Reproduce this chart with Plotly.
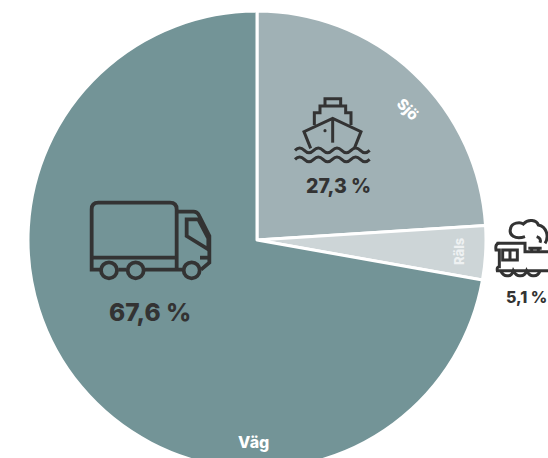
import plotly.graph_objects as go

# Data (slice sizes as drawn; printed shares as labelled)
categories = ["Sjö", "Räls", "Väg"]
slice_sizes = [24.0, 3.8, 72.2]
printed_shares = ["27,3 %", "5,1 %", "67,6 %"]
colors = ["#a0b1b5", "#cdd5d7", "#739497"]

W, H = 548, 480
DARK = "#333333"


def px(x, y):
    return x / W, 1 - y / H


def path(ox, oy, d, scale=1 / 3):
    """Zoom-crop icon coordinates -> paper coordinates path."""
    out, is_x = [], True
    for tok in d.split():
        if tok.isalpha():
            out.append(tok)
            is_x = True
        elif is_x:
            out.append(f"{(ox + float(tok) * scale) / W:.5f}")
            is_x = False
        else:
            out.append(f"{1 - (oy + float(tok) * scale) / H:.5f}")
            is_x = True
    return " ".join(out)


def circle(cx, cy, r):
    k = 0.5523 * r
    return (f"M {cx - r} {cy} C {cx - r} {cy - k} {cx - k} {cy - r} {cx} {cy - r} "
            f"C {cx + k} {cy - r} {cx + r} {cy - k} {cx + r} {cy} "
            f"C {cx + r} {cy + k} {cx + k} {cy + r} {cx} {cy + r} "
            f"C {cx - k} {cy + r} {cx - r} {cy + k} {cx - r} {cy} Z")


def wave(y, x0=45, x1=270, step=28, amp=14):
    d = f"M {x0} {y}"
    x, sign = x0, -1
    while x + step <= x1 + 1:
        d += f" Q {x + step / 2} {y + sign * amp} {x + step} {y}"
        x += step
        sign = -sign
    return d


icon_shapes = []


def icon(ox, oy, d, width=3, fill="rgba(0,0,0,0)"):
    icon_shapes.append(dict(type="path", xref="paper", yref="paper",
                            path=path(ox, oy, d), fillcolor=fill,
                            line=dict(color=DARK, width=width)))


# Ship
SX, SY = 280, 80
for d in [
    "M 135 78 L 135 56 L 182 56 L 182 78",
    "M 103 135 L 103 98 L 120 98 L 120 78 L 197 78 L 197 98 L 213 98 L 213 135",
    "M 92 205 L 72 155 L 158 115 L 243 155 L 223 205",
    "M 158 115 L 158 188",
    wave(211),
    wave(238),
]:
    icon(SX, SY, d, 3)
icon(SX, SY, circle(135, 152, 2.5), 1.5, DARK)

# Truck
TX, TY = 70, 181
for d in [
    "M 90 266 L 65 266 L 65 85 Q 65 65 85 65 L 300 65 Q 320 65 320 85 L 320 266",
    "M 65 230 L 320 230",
    "M 145 266 L 170 266",
    "M 225 266 L 340 266",
    "M 320 92 L 370 92 Q 382 92 388 105 L 418 165 L 418 245 L 393 266",
    "M 350 115 L 385 115 L 415 172 L 415 205 L 350 165 Z",
    "M 390 230 L 418 230",
]:
    icon(TX, TY, d, 3.8)
for cx in (117, 197, 365):
    icon(TX, TY, circle(cx, 268, 24), 3.8)

# Train
RX, RY = 280, 80
for d in [
    "M 735 470 C 705 480 685 465 692 445 C 695 428 720 425 730 432 C 745 415 770 420 775 435 "
    "C 800 440 808 470 795 490",
    "M 770 470 Q 785 475 780 488",
    "M 658 490 Q 645 490 648 510 L 658 510 L 658 560 Q 650 560 652 572 L 810 572",
    "M 650 490 L 735 490 L 735 515 L 810 515",
    "M 668 510 L 712 510 L 712 540 L 668 540 Z",
    "M 690 510 L 690 540",
    "M 662 572 Q 670 590 685 587 Q 695 587 700 572 Q 710 590 722 587 Q 735 587 740 572 "
    "Q 750 590 762 587 Q 775 587 780 572",
    "M 755 505 L 755 515 M 775 505 L 775 515 M 745 505 L 785 505",
]:
    icon(RX, RY, d, 3)

annotations = []


def text(x, y, s, size, color, angle=0, anchor="center", weight=800):
    ax, ay = px(x, y)
    annotations.append(dict(text=s, x=ax, y=ay, xref="paper", yref="paper",
                            xanchor=anchor, yanchor="middle", showarrow=False,
                            textangle=angle,
                            font=dict(family="Inter, Roboto, sans-serif", size=size,
                                      color=color, weight=weight)))


text(407, 109, categories[0], 15, "white", 45)
text(459, 251, categories[1], 13, "#eef1f2", -90)
text(253, 442, categories[2], 16, "white")
text(338, 186, printed_shares[0], 19.5, DARK)
text(504, 297, printed_shares[1], 16, DARK, anchor="left")
text(150, 312, printed_shares[2], 24.5, DARK)

fig = go.Figure(go.Pie(
    labels=categories, values=slice_sizes, sort=False, direction="clockwise",
    rotation=0, textinfo="none", hoverinfo="label",
    marker=dict(colors=colors, line=dict(color="white", width=3)),
    domain=dict(x=[28 / W, 486 / W], y=[11 / H, 469 / H]),
    showlegend=False,
))
fig.update_layout(width=W, height=H, margin=dict(l=0, r=0, t=0, b=0),
                  paper_bgcolor="white", shapes=icon_shapes, annotations=annotations)
fig.write_html("out.html", config=dict(displayModeBar=False),
               post_script="document.documentElement.style.overflow='hidden';"
                           "document.body.style.margin='0';document.body.style.overflow='hidden';")
